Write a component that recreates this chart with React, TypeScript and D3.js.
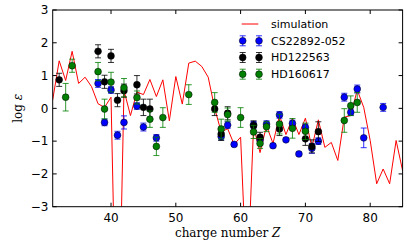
import * as d3 from 'd3';

// simulation curve, Z = 31..85
const simZ = d3.range(31, 86);
const simValues = [
  0.26, 1.45, 0.85, 1.74, 0.76, 0.95, 0.66, 0.14, 0.03, 0.34,
  -9, 0.55, -0.22, 0.5, 0.42, 0.88, 0.36, 0.87, -0.38, 0.97,
  0.13, 1.38, 1.44, 1.28, 0.95, 0.0, -0.72, -0.62, -1.1, -0.88,
  -5.5, -0.55, -1.35, -0.53, -1.07, -0.22, -0.8, -0.3, -0.8, -0.3,
  -1.19, -0.35, -1.19, -1.04, -1.59, -0.27, -0.22, 0.56, 0.03, -0.98,
  -2.3, -1.85, -2.3, -0.98, -1.9,
];

// CS22892-052
const csZ = [38, 39, 40, 41, 42, 44, 45, 47, 57, 58, 59, 62, 63, 64, 65, 66, 67, 68, 69, 70, 71, 72, 76, 77, 78, 79, 82];
const csVal = [0.76, -0.43, 0.56, -0.82, -0.43, 0.07, -0.57, -0.9, -0.86, -0.51, -1.1, -0.5, -0.96, -0.48, -1.14, -0.2, -0.96, -0.46, -1.39, -0.58, -1.22, -1.0, 0.34, -0.12, 0.59, -0.9, 0.03];
const csErr = [0.12, 0.1, 0.1, 0.12, 0.2, 0.1, 0.12, 0.1, 0.1, 0.1, 0.05, 0.1, 0.1, 0.1, 0.05, 0.1, 0.05, 0.1, 0.05, 0.1, 0.15, 0.1, 0.12, 0.1, 0.12, 0.3, 0.12];

// HD122563
const hd1Z = [32, 38, 39, 40, 41, 42, 44, 45, 46, 56, 57, 58, 62, 63, 66, 70, 71, 72];
const hd1Val = [0.87, 1.74, 0.81, 1.6, 0.25, 0.54, 0.72, 0.03, -0.02, -0.02, -0.78, -0.15, -0.53, -0.88, -0.63, -0.93, -1.16, -0.71];
const hd1Err = [0.2, 0.2, 0.2, 0.2, 0.2, 0.2, 0.28, 0.25, 0.3, 0.2, 0.2, 0.2, 0.15, 0.15, 0.2, 0.2, 0.2, 0.3];

// HD160617
const hd2Z = [33, 34, 38, 39, 40, 42, 44, 46, 47, 48, 52, 56, 57, 58, 60, 62, 63, 64, 66, 68, 70, 76, 77, 78];
const hd2Val = [0.34, 1.3, 1.12, -0.02, 0.8, 0.63, 0.33, -0.33, -1.16, -0.28, 0.42, 0.18, -0.63, -0.19, -0.28, -0.72, -1.07, -0.56, -0.48, -0.61, -0.7, -0.37, 0.08, 0.18];
const hd2Err = [0.42, 0.2, 0.28, 0.3, 0.3, 0.28, 0.2, 0.25, 0.28, 0.3, 0.3, 0.3, 0.3, 0.2, 0.3, 0.2, 0.15, 0.15, 0.3, 0.3, 0.25, 0.36, 0.3, 0.3];

const xTicks = [40, 50, 60, 70, 80];
const yTicks = [-3, -2, -1, 0, 1, 2, 3];

const W = 407;
const H = 244;
const left = 52.7;
const right = 402.6;
const top = 10;
const bottom = 206.7;

const series = [
  { name: 'CS22892-052', color: '#0000ff', z: csZ, v: csVal, e: csErr },
  { name: 'HD122563', color: '#000000', z: hd1Z, v: hd1Val, e: hd1Err },
  { name: 'HD160617', color: '#008000', z: hd2Z, v: hd2Val, e: hd2Err },
];

const ErrPoint = ({ cx, cy, lo, hi, color }) => (
  <g>
    <line x1={cx} x2={cx} y1={lo} y2={hi} stroke={color} strokeWidth={1} opacity={0.8} />
    <line x1={cx - 3} x2={cx + 3} y1={lo} y2={lo} stroke={color} strokeWidth={1} opacity={0.8} />
    <line x1={cx - 3} x2={cx + 3} y1={hi} y2={hi} stroke={color} strokeWidth={1} opacity={0.8} />
    <circle cx={cx} cy={cy} r={3.4} fill={color} stroke="#000" strokeWidth={0.5} />
  </g>
);

export default function App() {
  const x = d3.scaleLinear().domain([31, 85]).range([left, right]);
  const y = d3.scaleLinear().domain([-3, 3]).range([bottom, top]);

  const line = d3.line<number>()
    .x((_, i) => x(simZ[i]))
    .y(d => y(d));

  const tickFont = { fontFamily: 'DejaVu Sans', fontSize: 12 };

  return (
    <svg width={W} height={H} style={{ position: 'absolute', left: 0, top: 0, background: '#fff' }}>
      <defs>
        <clipPath id="plot">
          <rect x={left} y={top} width={right - left} height={bottom - top} />
        </clipPath>
      </defs>

      <g clipPath="url(#plot)">
        <path d={line(simValues)} fill="none" stroke="#ff0000" strokeWidth={1} />
        {series.map(s => (
          <g key={s.name}>
            {s.z.map((z, i) => (
              <ErrPoint
                key={i}
                cx={x(z)}
                cy={y(s.v[i])}
                lo={y(s.v[i] - s.e[i])}
                hi={y(s.v[i] + s.e[i])}
                color={s.color}
              />
            ))}
          </g>
        ))}
      </g>

      {/* frame */}
      <rect x={left} y={top} width={right - left} height={bottom - top} fill="none" stroke="#000" strokeWidth={1} />

      {/* x ticks, inward on bottom and top */}
      {xTicks.map(t => (
        <g key={t}>
          <line x1={x(t)} x2={x(t)} y1={bottom} y2={bottom - 4} stroke="#000" />
          <line x1={x(t)} x2={x(t)} y1={top} y2={top + 4} stroke="#000" />
          <text x={x(t)} y={221.5} textAnchor="middle" {...tickFont}>{t}</text>
        </g>
      ))}

      {/* y ticks, inward on left and right */}
      {yTicks.map(t => (
        <g key={t}>
          <line x1={left} x2={left + 4} y1={y(t)} y2={y(t)} stroke="#000" />
          <line x1={right} x2={right - 4} y1={y(t)} y2={y(t)} stroke="#000" />
          <text x={48.5} y={y(t)} dy="0.36em" textAnchor="end" {...tickFont}>
            {t < 0 ? `\u2212${-t}` : t}
          </text>
        </g>
      ))}

      {/* axis labels */}
      <text x={(left + right) / 2} y={237} textAnchor="middle" fontFamily="DejaVu Serif" fontSize={12}>
        charge number <tspan fontStyle="italic">Z</tspan>
      </text>
      <text
        transform={`translate(22,${(top + bottom) / 2}) rotate(-90)`}
        textAnchor="middle"
        fontFamily="DejaVu Serif"
        fontSize={12}
      >
        log <tspan fontStyle="italic">ε</tspan>
      </text>

      {/* legend */}
      <g>
        <line x1={241.7} x2={258.3} y1={24} y2={24} stroke="#ff0000" strokeWidth={1} />
        <text x={271} y={24} dy="0.36em" fontFamily="DejaVu Sans" fontSize={11}>simulation</text>
        {series.map((s, i) => {
          const ly = 40.8 + i * 16.7;
          return (
            <g key={s.name}>
              <ErrPoint cx={242.7} cy={ly} lo={ly + 5} hi={ly - 5} color={s.color} />
              <ErrPoint cx={259} cy={ly} lo={ly + 5} hi={ly - 5} color={s.color} />
              <text x={271} y={ly} dy="0.36em" fontFamily="DejaVu Sans" fontSize={11}>{s.name}</text>
            </g>
          );
        })}
      </g>
    </svg>
  );
}
